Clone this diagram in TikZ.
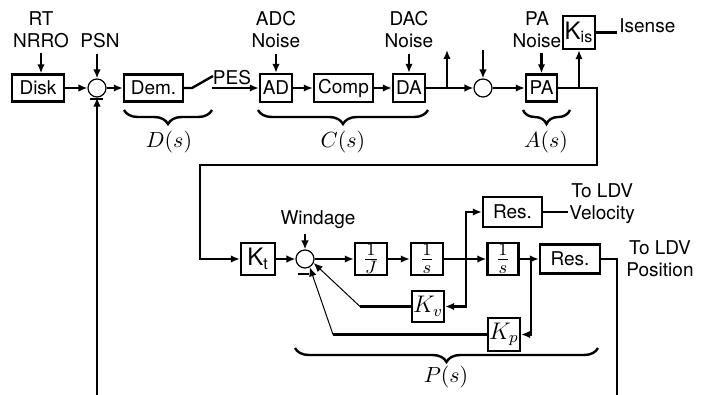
\documentclass[tikz,border=0pt]{standalone}
\usepackage[no-math]{fontspec}
\setmainfont{TeX Gyre Heros}
\usetikzlibrary{arrows.meta,decorations.pathreplacing}
\begin{document}
\begin{tikzpicture}[x=0.5pt,y=-0.5pt,
  every node/.style={font=\fontsize{9.5}{11}\selectfont},
  ln/.style={line width=1.2pt},
  arr/.style={line width=1.2pt,-{Latex[length=4.5pt,width=3.8pt]}},
  thinarr/.style={line width=0.5pt,-{Latex[length=4.5pt,width=3.8pt]}},
  blk/.style={draw,line width=1.2pt,inner sep=0pt},
  sumj/.style={draw,circle,line width=0.6pt,minimum size=9pt,inner sep=0pt},
  mth/.style={font=\fontsize{12}{14}\selectfont},
  frc/.style={font=\fontsize{12.5}{14}\selectfont},
  mlbl/.style={font=\fontsize{10.5}{12}\selectfont,inner sep=0pt},
  brc/.style={decorate,decoration={brace,mirror,amplitude=7pt},line width=1.2pt},
  lbl/.style={align=center,inner sep=2.5pt}]
\useasboundingbox (0,0) rectangle (703,395);

% ---------- top row ----------
\node[blk,minimum width=26pt,minimum height=13.5pt] (disk) at (38,88) {Disk};
\node[sumj] (s1) at (97,88) {};
\node[blk,minimum width=29.5pt,minimum height=13.5pt] (dem) at (153.5,88) {Dem.};
\coordinate (sw1) at (192,88);
\coordinate (sw2) at (213,76);
\coordinate (sw3) at (212,88);
\node[inner sep=0pt] (pes) at (232,78) {PES};
\node[blk,minimum width=16pt,minimum height=14pt] (ad) at (276,88) {AD};
\node[blk,minimum width=29.5pt,minimum height=14pt] (comp) at (343.5,88) {Comp};
\node[blk,minimum width=16pt,minimum height=14pt] (da) at (409,88) {DA};
\coordinate (br1) at (447,88);
\coordinate (up1) at (447,50);
\node[sumj] (s2) at (483,88) {};
\coordinate (dn2) at (483,50);
\node[blk,minimum width=15.5pt,minimum height=13.5pt] (pa) at (541.5,88) {PA};
\coordinate (br2) at (579,88);
\node[blk,minimum width=16pt,minimum height=16.5pt,mth] (kis) at (579,32.5) {K\textsubscript{is}};
\coordinate (isx) at (617,32.5);
\node[anchor=base west,inner sep=1pt] (isense) at (617,33) {Isense};

\node[lbl] (rt) at (41,30) {RT\\NRRO};
\node[lbl] (psn) at (100,41) {PSN};
\node[lbl] (adc) at (276,30) {ADC\\Noise};
\node[lbl] (dac) at (409,30) {DAC\\Noise};
\node[lbl] (pan) at (537,30) {PA\\Noise};

\draw[brc] (124,110) -- (212,110);
\draw[brc] (258,110) -- (428,110);
\draw[brc] (523,110) -- (570,110);
\node[mlbl] (ds) at (169,142) {$D(s)$};
\node[mlbl] (cs) at (343,142) {$C(s)$};
\node[mlbl] (as) at (546,142) {$A(s)$};

\coordinate (c1) at (597,88);
\coordinate (c2) at (597,165);
\coordinate (c3) at (200,165);
\coordinate (c4) at (200,259);

% ---------- bottom row ----------
\node[blk,minimum width=17pt,minimum height=16pt,mth] (kt) at (258,259) {K\textsubscript{t}};
\node[sumj] (s3) at (305,259) {};
\node[lbl] (wind) at (318,220) {Windage};
\node[blk,minimum width=16pt,minimum height=16pt,frc] (ij) at (371,259) {$\frac{1}{J}$};
\node[blk,minimum width=16pt,minimum height=16pt,frc] (is1) at (427,259) {$\frac{1}{s}$};
\coordinate (br3) at (466,259);
\node[blk,minimum width=15.5pt,minimum height=16pt,frc] (is2) at (503,259) {$\frac{1}{s}$};
\node[blk,minimum width=29.5pt,minimum height=15pt] (resv) at (512.5,212) {Res.};
\node[blk,minimum width=30pt,minimum height=14.5pt] (resp) at (570,259) {Res.};
\coordinate (br4) at (531,259);
\node[blk,minimum width=16pt,minimum height=15.5pt,mth] (kv) at (428,306.5) {$K_v$};
\node[blk,minimum width=16pt,minimum height=16.5pt,mth] (kp) at (504,334.5) {$K_p$};
\coordinate (kvb) at (360,306.5);
\coordinate (kpb) at (333,334.5);
\node[align=center,inner sep=0pt,anchor=west] (vel) at (569,203.5) {To LDV\\Velocity};
\node[align=center,inner sep=0pt] (pos) at (660,259) {To LDV\\Position};
\coordinate (vend) at (568,212);
\coordinate (pend) at (617,259);
\coordinate (pbot) at (617,395);
\coordinate (lbot) at (97,395);

\draw[brc] (295,348) -- (598,348);
\node[mlbl] (ps) at (446,377) {$P(s)$};

% ---------- connectors ----------
\draw[arr] (rt.south) -- (rt.south |- disk.north);
\draw[arr] (psn.south -| s1) -- (s1.north);
\draw[arr] (disk.east) -- (s1.west);
\draw[arr] (s1.east) -- (dem.west);
\draw[ln] (dem.east) -- (sw1) -- (sw2);
\draw[arr] (sw3) -- (ad.west);
\draw[arr] (adc.south) -- (ad.north);
\draw[arr] (ad.east) -- (comp.west);
\draw[arr] (comp.east) -- (da.west);
\draw[arr] (dac.south) -- (da.north);
\draw[arr] (da.east) -- (s2.west);
\draw[arr] (br1) -- (up1);
\draw[arr] (dn2) -- (s2.north);
\draw[arr] (s2.east) -- (pa.west);
\draw[arr] (pan.south -| pa) -- (pa.north);
\draw[arr] (br2) -- (kis.south);
\draw[ln] (kis.east) -- (isx);
\draw[arr] (pa.east) -- (c1) -- (c2) -- (c3) -- (c4) -- (kt.west);
\draw[arr] (lbot) -- (s1.south);
\draw[line width=0.7pt] (90,99) -- (103,99);

\draw[arr] (kt.east) -- (s3.west);
\draw[arr] (wind.south -| s3) -- (s3.north);
\draw[arr] (s3.east) -- (ij.west);
\draw[arr] (ij.east) -- (is1.west);
\draw[arr] (is1.east) -- (is2.west);
\draw[arr] (br3) |- (resv.west);
\draw[arr] (br3) |- (kv.east);
\draw[ln] (resv.east) -- (vend);
\draw[arr] (is2.east) -- (resp.west);
\draw[arr] (br4) |- (kp.east);
\draw[ln] (resp.east) -- (pend) -- (pbot);
\draw[ln] (kv.west) -- (kvb);
\draw[thinarr] (kvb) -- (s3.-25);
\draw[ln] (kp.west) -- (kpb);
\draw[thinarr] (kpb) -- (s3.-60);
\draw[line width=0.7pt] (298,274) -- (309,274);
\end{tikzpicture}
\end{document}
